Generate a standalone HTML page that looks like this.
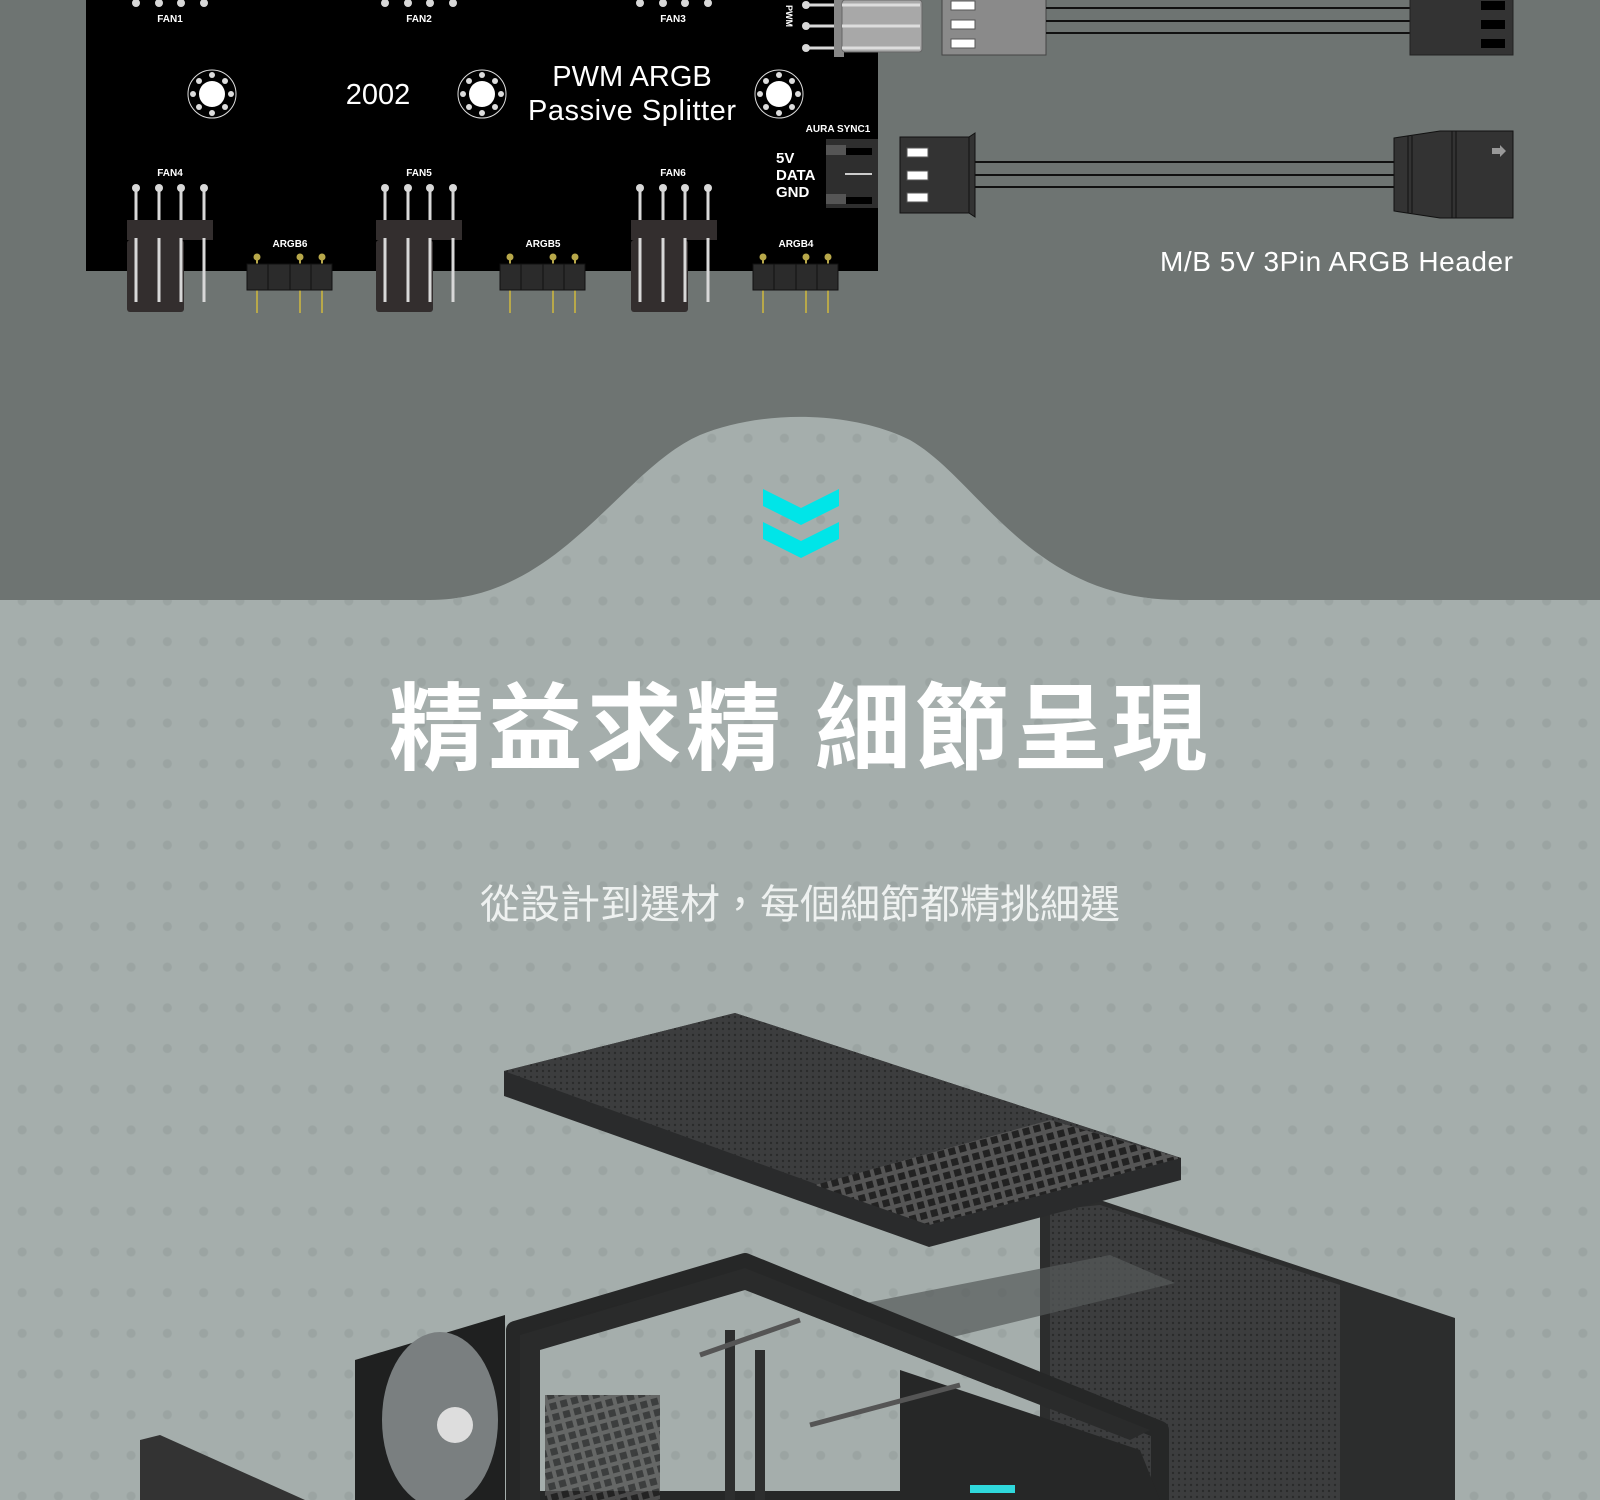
<!DOCTYPE html>
<html><head><meta charset="utf-8"><style>
html,body{margin:0;padding:0;}
body{width:1600px;height:1500px;overflow:hidden;position:relative;background:#6e7472;font-family:"Liberation Sans","Noto Sans CJK TC",sans-serif;}
.light{position:absolute;left:0;top:0;width:1600px;height:1500px;
background-color:#a5aeac;
background-image:radial-gradient(circle at center,#9ba4a2 0,#9ba4a2 4px,rgba(0,0,0,0) 5px);
background-size:36.3px 40.7px;background-position:4px 11px;
clip-path:path('M0 600 L430 600 C560 600 620 470 700 435 C760 410 850 410 910 440 C980 480 1030 600 1180 600 L1600 600 L1600 1500 L0 1500 Z');}
svg{position:absolute;left:0;top:0;}
.t1{position:absolute;left:0;width:1600px;text-align:center;top:675px;font-size:95px;font-weight:bold;color:#fff;letter-spacing:4px;line-height:110px;}
.t2{position:absolute;left:0;width:1600px;text-align:center;top:881px;font-size:40px;color:#eef1f0;line-height:48px;}
</style></head><body>
<div class="light"></div>
<svg width="1600" height="1500" viewBox="0 0 1600 1500" font-family="Liberation Sans, sans-serif">
<defs>
<g id="fanpins">
 <g fill="#d8d8d8"><circle cx="0" cy="3" r="4"/><circle cx="23" cy="3" r="4"/><circle cx="45" cy="3" r="4"/><circle cx="68" cy="3" r="4"/></g>
</g>
<g id="fanconn">
 <rect x="-9" y="32" width="86" height="20" fill="#332e2e"/>
 <rect x="-9" y="52" width="57" height="72" rx="3" fill="#332e2e"/>
 <g stroke="#d8d8d8" stroke-width="3"><line x1="0" y1="0" x2="0" y2="114"/><line x1="23" y1="0" x2="23" y2="114"/><line x1="45" y1="0" x2="45" y2="114"/><line x1="68" y1="0" x2="68" y2="114"/></g>
 <rect x="-9" y="32" width="86" height="18" fill="#332e2e"/>
 <g fill="#d8d8d8"><circle cx="0" cy="0" r="4"/><circle cx="23" cy="0" r="4"/><circle cx="45" cy="0" r="4"/><circle cx="68" cy="0" r="4"/></g>
</g>
<g id="argb">
 <g stroke="#b8a84a" stroke-width="2"><line x1="10" y1="0" x2="10" y2="56"/><line x1="53" y1="0" x2="53" y2="56"/><line x1="75" y1="0" x2="75" y2="56"/></g>
 <g fill="#b8a84a"><circle cx="10" cy="0" r="3.5"/><circle cx="53" cy="0" r="3.5"/><circle cx="75" cy="0" r="3.5"/></g>
 <rect x="0" y="7" width="85" height="26" fill="#2b2b2b" stroke="#111"/>
 <g stroke="#111"><line x1="21" y1="7" x2="21" y2="33"/><line x1="43" y1="7" x2="43" y2="33"/><line x1="64" y1="7" x2="64" y2="33"/></g>
</g>
<g id="hole">
 <circle r="24" fill="none" stroke="#ddd" stroke-width="1"/>
 <circle r="13" fill="#fff"/>
 <g fill="#ddd"><circle cx="0" cy="-19" r="3"/><circle cx="0" cy="19" r="3"/><circle cx="-19" cy="0" r="3"/><circle cx="19" cy="0" r="3"/><circle cx="13" cy="13" r="3"/><circle cx="-13" cy="13" r="3"/><circle cx="13" cy="-13" r="3"/><circle cx="-13" cy="-13" r="3"/></g>
</g>
<pattern id="mesh" width="6" height="6" patternUnits="userSpaceOnUse"><rect width="6" height="6" fill="#3c3d3e"/><circle cx="3" cy="3" r="1.2" fill="#2a2b2b"/></pattern>
<pattern id="grid" width="11" height="11" patternUnits="userSpaceOnUse" patternTransform="rotate(-15)"><rect width="11" height="11" fill="#555"/><rect x="2" y="2" width="7" height="7" fill="#222"/></pattern>
</defs>
<!-- board -->
<rect x="86" y="0" width="792" height="271" fill="#000"/>
<use href="#fanpins" x="136" y="0"/><use href="#fanpins" x="385" y="0"/><use href="#fanpins" x="640" y="0"/>
<g fill="#fff" font-size="10" font-weight="bold" text-anchor="middle">
<text x="170" y="22">FAN1</text><text x="419" y="22">FAN2</text><text x="673" y="22">FAN3</text>
<text x="170" y="176">FAN4</text><text x="419" y="176">FAN5</text><text x="673" y="176">FAN6</text>
<text x="290" y="247">ARGB6</text><text x="543" y="247">ARGB5</text><text x="796" y="247">ARGB4</text>
<text x="838" y="132">AURA SYNC1</text>
</g>
<use href="#hole" x="212" y="94"/><use href="#hole" x="482" y="94"/><use href="#hole" x="779" y="94"/>
<text x="378" y="104" fill="#fff" font-size="29" text-anchor="middle">2002</text>
<text x="632" y="86" fill="#fff" font-size="29" text-anchor="middle">PWM ARGB</text>
<text x="632" y="120" fill="#fff" font-size="29" text-anchor="middle" textLength="208">Passive Splitter</text>
<use href="#fanconn" x="136" y="188"/><use href="#fanconn" x="385" y="188"/><use href="#fanconn" x="640" y="188"/>
<use href="#argb" x="247" y="257"/><use href="#argb" x="500" y="257"/><use href="#argb" x="753" y="257"/>
<g fill="#fff" font-size="15" font-weight="bold"><text x="776" y="163">5V</text><text x="776" y="180">DATA</text><text x="776" y="197">GND</text></g>
<rect x="826" y="139" width="52" height="69" fill="#2e2e2e"/>
<rect x="826" y="145" width="20" height="10" fill="#555"/><rect x="826" y="194" width="20" height="10" fill="#555"/>
<rect x="846" y="148" width="26" height="7" fill="#000"/><rect x="846" y="197" width="26" height="7" fill="#000"/>
<line x1="845" y1="174" x2="872" y2="174" stroke="#ccc" stroke-width="2"/>
<text x="786" y="16" fill="#fff" font-size="9" font-weight="bold" transform="rotate(90 786 16)" text-anchor="middle">PWM</text>
<g stroke="#d8d8d8" stroke-width="3"><line x1="806" y1="5" x2="840" y2="5"/><line x1="806" y1="26" x2="840" y2="26"/><line x1="806" y1="48" x2="840" y2="48"/></g>
<g fill="#d8d8d8"><circle cx="806" cy="5" r="4"/><circle cx="806" cy="26" r="4"/><circle cx="806" cy="48" r="4"/></g>
<rect x="834" y="0" width="10" height="57" fill="#888"/>
<rect x="842" y="0" width="80" height="52" rx="3" fill="#a8a8a8" stroke="#666"/>
<g stroke="#ddd" stroke-width="3"><line x1="842" y1="5" x2="920" y2="5"/><line x1="842" y1="26" x2="920" y2="26"/><line x1="842" y1="48" x2="920" y2="48"/></g>
<!-- right cables -->
<rect x="942" y="-2" width="104" height="57" fill="#8a8a8a" stroke="#444"/>
<g fill="#fff" stroke="#555"><rect x="951" y="1" width="24" height="9"/><rect x="951" y="20" width="24" height="9"/><rect x="951" y="39" width="24" height="9"/></g>
<g stroke="#111" stroke-width="2"><line x1="1046" y1="8" x2="1410" y2="8"/><line x1="1046" y1="21" x2="1410" y2="21"/><line x1="1046" y1="33" x2="1410" y2="33"/></g>
<rect x="1410" y="-2" width="103" height="57" fill="#333" stroke="#222"/>
<g fill="#000"><rect x="1481" y="1" width="24" height="9"/><rect x="1481" y="20" width="24" height="9"/><rect x="1481" y="39" width="24" height="9"/></g>
<rect x="900" y="137" width="69" height="76" fill="#333" stroke="#111"/>
<polygon points="969,137 975,133 975,217 969,213" fill="#333" stroke="#111"/>
<g fill="#fff" stroke="#555"><rect x="907" y="148" width="21" height="9"/><rect x="907" y="171" width="21" height="9"/><rect x="907" y="193" width="21" height="9"/></g>
<g stroke="#111" stroke-width="2"><line x1="975" y1="162" x2="1394" y2="162"/><line x1="975" y1="175" x2="1394" y2="175"/><line x1="975" y1="187" x2="1394" y2="187"/></g>
<polygon points="1394,138 1440,131 1513,131 1513,218 1440,218 1394,211" fill="#333" stroke="#111"/>
<g stroke="#111"><line x1="1408" y1="136" x2="1408" y2="213"/><line x1="1412" y1="136" x2="1412" y2="213"/><line x1="1452" y1="131" x2="1452" y2="218"/><line x1="1456" y1="131" x2="1456" y2="218"/></g>
<polygon points="1492,148 1500,148 1500,145 1506,151 1500,157 1500,154 1492,154" fill="#999"/>
<text x="1513" y="271" fill="#fff" font-size="28" text-anchor="end" textLength="353">M/B 5V 3Pin ARGB Header</text>
<!-- chevrons -->
<g fill="#00e5e8">
<polygon points="763,489 801,508 839,489 839,506 801,525 763,506"/>
<polygon points="763,522 801,541 839,522 839,539 801,558 763,539"/>
</g>
<!-- case approximation -->
<polygon points="1040,1205 1100,1200 1455,1318 1455,1500 1040,1500" fill="#2c2d2d"/>
<polygon points="1050,1210 1100,1205 1340,1285 1340,1500 1050,1500" fill="url(#mesh)"/>
<polygon points="830,1310 1110,1255 1175,1283 920,1345" fill="#555a5a" opacity="0.7"/>
<polygon points="504,1071 735,1013 1181,1158 1181,1180 929,1247 504,1096" fill="#2a2b2c"/>
<polygon points="504,1071 735,1013 1181,1158 929,1225" fill="url(#mesh)"/>
<polygon points="815,1185 1050,1120 1181,1158 929,1225" fill="url(#grid)"/>
<!-- chassis frame -->
<g fill="none" stroke="#262727" stroke-width="18" stroke-linejoin="round">
<polygon points="515,1330 745,1262 1160,1430 1160,1500 515,1500"/>
<polyline points="560,1330 745,1280 1000,1380"/>
</g>
<polygon points="520,1335 745,1268 1150,1430 1130,1440 745,1290 540,1350 540,1500 520,1500" fill="#2a2b2b"/>
<rect x="545" y="1395" width="115" height="105" fill="url(#grid)" opacity="0.8"/>
<g stroke="#2d2e2e" stroke-width="10"><line x1="730" y1="1330" x2="730" y2="1500"/><line x1="760" y1="1350" x2="760" y2="1500"/></g>
<polygon points="900,1370 1140,1450 1160,1500 900,1500" fill="#262727"/>
<g stroke="#555" stroke-width="5" fill="none"><polyline points="700,1355 800,1320"/><polyline points="810,1425 960,1385"/></g>
<polygon points="355,1360 505,1315 505,1500 355,1500" fill="#1f2020"/>
<ellipse cx="440" cy="1420" rx="58" ry="88" fill="#7a7f80"/>
<circle cx="455" cy="1425" r="18" fill="#ddd"/>
<polygon points="140,1440 160,1435 305,1500 140,1500" fill="#333"/>
<rect x="970" y="1485" width="45" height="8" fill="#2fd8dc"/>
</svg>
<div class="t1">精益求精 細節呈現</div>
<div class="t2">從設計到選材，每個細節都精挑細選</div>
</body></html>
